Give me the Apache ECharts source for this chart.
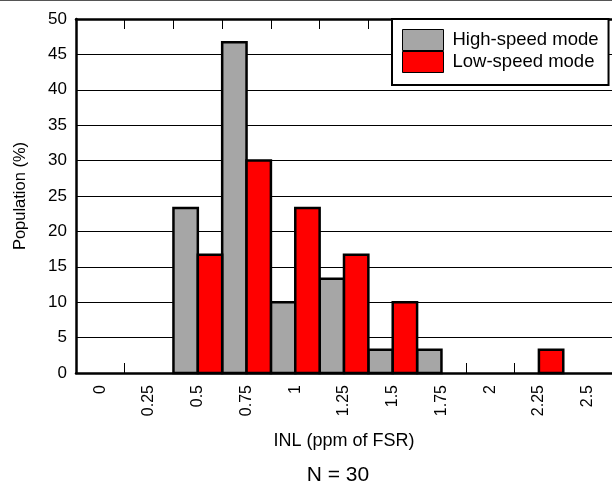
<!DOCTYPE html>
<html>
<head>
<meta charset="utf-8">
<script src="https://cdn.jsdelivr.net/npm/echarts@6/dist/echarts.min.js"></script>
<style>html,body{margin:0;padding:0;background:#fff;}#c{width:612px;height:485px;}</style>
</head>
<body>
<div id="c"></div>
<script>
var categories = ['0', '0.25', '0.5', '0.75', '1', '1.25', '1.5', '1.75', '2', '2.25', '2.5'];
var highSpeed = [0, 0, 23.3, 46.7, 10, 13.3, 3.3, 3.3, 0, 0, 0];
var lowSpeed  = [0, 0, 16.7, 30, 23.3, 16.7, 10, 0, 0, 3.3, 0];
var seriesNames = ['High-speed mode', 'Low-speed mode'];
var seriesColors = ['#a6a6a6', '#ff0000'];
var yTicks = {min: 0, max: 50, interval: 5};

var FONT = '"Liberation Sans", Arial, sans-serif';

function toData(arr) {
  return arr.map(function (v, i) { return [i, v]; });
}
function makeRender(slot) {
  return function (params, api) {
    var ci = api.value(0), v = api.value(1);
    if (!v) return null;
    var base = api.coord([ci, 0]);
    var top = api.coord([ci, v]);
    var band = api.size([1, 0])[0];
    var w = band / 2;
    var x = base[0] - band / 2 + slot * w;
    return {
      type: 'rect',
      shape: {x: x, y: top[1], width: w, height: base[1] - top[1]},
      style: {fill: seriesColors[slot], stroke: '#000', lineWidth: 2.5}
    };
  };
}

var chart = echarts.init(document.getElementById('c'), null, {renderer: 'canvas'});
chart.setOption({
  animation: false,
  backgroundColor: '#fff',
  textStyle: {fontFamily: FONT, color: '#000'},
  grid: {left: 76, top: 19, width: 540, height: 354},
  legend: {
    orient: 'vertical', left: 392, top: 19,
    padding: [10, 10, 12, 10],
    backgroundColor: '#fff', borderColor: '#000', borderWidth: 2,
    itemGap: 0, itemWidth: 41, itemHeight: 21,
    icon: 'rect',
    itemStyle: {borderColor: '#000', borderWidth: 1},
    textStyle: {fontFamily: FONT, fontSize: 18.5, color: '#000', lineHeight: 21, padding: [0, 0, 0, 4]},
    data: seriesNames
  },
  xAxis: [{
    type: 'category', data: categories, position: 'bottom',
    axisLine: {lineStyle: {color: '#000', width: 2.5}},
    axisTick: {show: true, inside: true, length: 10, lineStyle: {color: '#000', width: 1}},
    axisLabel: {rotate: 90, margin: 12, fontFamily: FONT, fontSize: 16, color: '#000'},
    name: 'INL (ppm of FSR)', nameLocation: 'middle', nameGap: 59,
    nameTextStyle: {fontFamily: FONT, fontSize: 18, color: '#000'}
  }, {
    type: 'category', data: categories, position: 'top',
    axisLine: {lineStyle: {color: '#000', width: 2.5}},
    axisTick: {show: true, inside: true, length: 10, lineStyle: {color: '#000', width: 1}},
    axisLabel: {show: false}
  }],
  yAxis: {
    type: 'value', min: yTicks.min, max: yTicks.max, interval: yTicks.interval,
    axisLine: {show: true, lineStyle: {color: '#000', width: 2.5}},
    axisTick: {show: false},
    axisLabel: {fontFamily: FONT, fontSize: 17, color: '#000', margin: 9},
    splitLine: {lineStyle: {color: '#000', width: 1}},
    name: 'Population (%)', nameLocation: 'middle', nameGap: 47,
    nameTextStyle: {fontFamily: FONT, fontSize: 16.5, color: '#000'}
  },
  series: [{
    name: seriesNames[0], type: 'custom', data: toData(highSpeed),
    encode: {x: 0, y: 1}, renderItem: makeRender(0), z: 3,
    itemStyle: {color: seriesColors[0], borderColor: '#000', borderWidth: 1}
  }, {
    name: seriesNames[1], type: 'custom', data: toData(lowSpeed),
    encode: {x: 0, y: 1}, renderItem: makeRender(1), z: 3,
    itemStyle: {color: seriesColors[1], borderColor: '#000', borderWidth: 1}
  }],
  graphic: [{
    type: 'line', shape: {x1: 0, y1: 0.5, x2: 612, y2: 0.5},
    style: {stroke: '#555', lineWidth: 1}
  }, {
    type: 'text', x: 338, y: 475,
    style: {text: 'N = 30', fontFamily: FONT, fontSize: 21, fill: '#000', textAlign: 'center', textVerticalAlign: 'middle'}
  }]
});
</script>
</body>
</html>
